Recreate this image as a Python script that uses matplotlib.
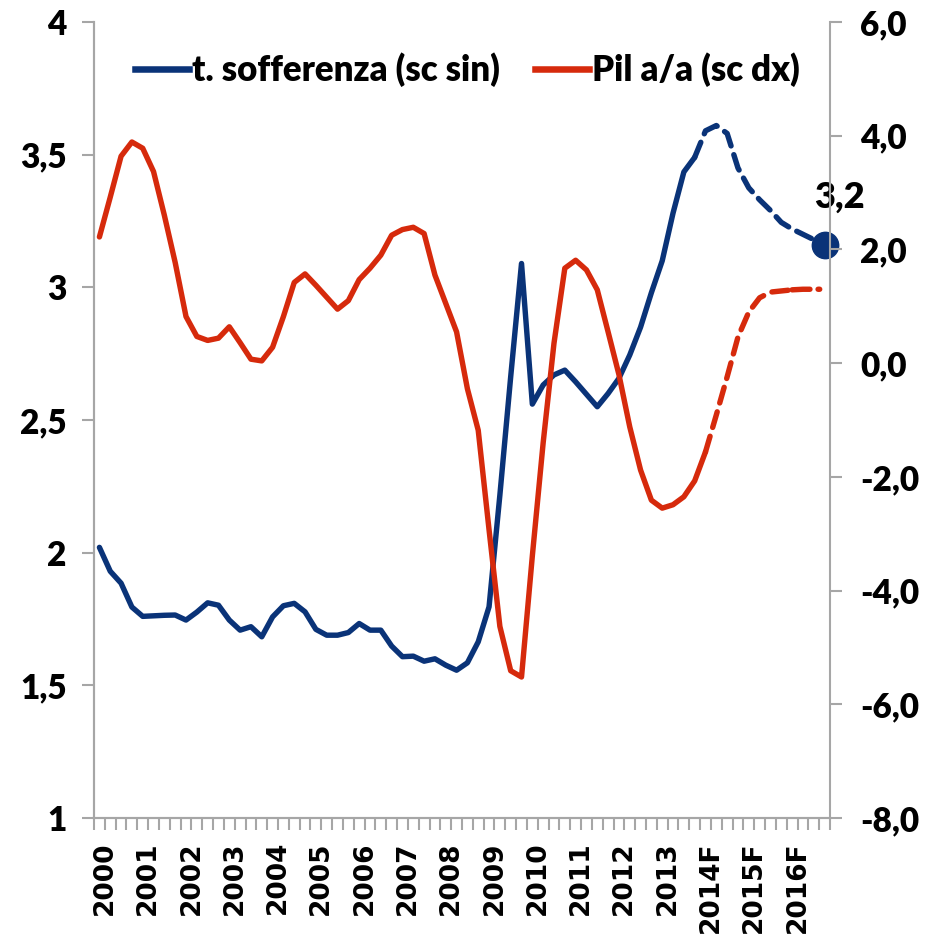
import numpy as np
import matplotlib
matplotlib.use('Agg')
import matplotlib.pyplot as plt
from matplotlib.lines import Line2D

# etichette anni (una ogni 4 trimestri)
years = ['2000', '2001', '2002', '2003', '2004', '2005', '2006', '2007', '2008',
         '2009', '2010', '2011', '2012', '2013', '2014F', '2015F', '2016F']

# tasso di sofferenza, trimestrale (scala sinistra)
sofferenza = [2.02, 1.93, 1.885, 1.795, 1.76, 1.762, 1.764, 1.765, 1.746, 1.776,
              1.811, 1.802, 1.746, 1.708, 1.721, 1.683, 1.758, 1.80, 1.809, 1.777,
              1.711, 1.689, 1.689, 1.699, 1.733, 1.708, 1.708, 1.648, 1.608, 1.61,
              1.591, 1.60, 1.576, 1.557, 1.585, 1.664, 1.796, 2.217, 2.663, 3.09,
              2.56, 2.632, 2.67, 2.688, 2.644, 2.597, 2.55, 2.60, 2.657, 2.745,
              2.85, 2.98, 3.10, 3.28, 3.435, 3.49, 3.59, 3.61, 3.58, 3.45,
              3.375, 3.33, 3.29, 3.245, 3.22, 3.20, 3.18, 3.16]

# Pil a/a, trimestrale (scala destra)
pil = [2.22, 2.92, 3.64, 3.89, 3.78, 3.37, 2.60, 1.77, 0.82, 0.47,
       0.40, 0.44, 0.64, 0.36, 0.07, 0.04, 0.28, 0.82, 1.42, 1.57,
       1.37, 1.16, 0.95, 1.10, 1.47, 1.67, 1.90, 2.25, 2.35, 2.39,
       2.28, 1.55, 1.05, 0.55, -0.45, -1.18, -2.93, -4.63, -5.41, -5.52,
       -3.39, -1.40, 0.35, 1.67, 1.81, 1.64, 1.29, 0.55, -0.20, -1.12,
       -1.88, -2.41, -2.55, -2.49, -2.35, -2.07, -1.56, -0.91, -0.24, 0.46,
       0.90, 1.15, 1.25, 1.27, 1.29, 1.30, 1.30, 1.30]

last_label = '3,2'

# inizio delle previsioni (indice trimestre)
blue_fc = 55
red_fc = 56
red_dd = 64

BLUE = '#0a3378'
RED = '#d62a0c'
GRAY = '#a6a6a6'
LW = 3.9
W = 'heavy'

plt.rcParams['font.family'] = ['Lato', 'DejaVu Sans']
plt.rcParams['font.weight'] = W

x = np.arange(len(sofferenza))
s = np.array(sofferenza)
p = np.array(pil)

fig = plt.figure(figsize=(9.29, 9.34), dpi=100)
ax = fig.add_axes([0.1012, 0.1242, 0.7922, 0.8522])
ax2 = ax.twinx()

# serie blu (sx)
ax.plot(x[:blue_fc + 1], s[:blue_fc + 1], color=BLUE, lw=LW, solid_capstyle='round',
        solid_joinstyle='round')
ax.plot(x[blue_fc:], s[blue_fc:], color=BLUE, lw=LW, dashes=(3.0, 1.7),
        dash_capstyle='round', clip_on=False)
ax.plot(x[-1], s[-1], 'o', color=BLUE, ms=19, clip_on=False, zorder=5)
ax.annotate(last_label, (x[-1], s[-1]), xytext=(11, 34), textcoords='offset points',
            ha='center', va='center', fontsize=26, fontweight=W, color='black',
            annotation_clip=False)

# serie rossa (dx)
ax2.plot(x[:red_fc + 1], p[:red_fc + 1], color=RED, lw=LW, solid_capstyle='round',
         solid_joinstyle='round')
ax2.plot(x[red_fc:red_dd + 1], p[red_fc:red_dd + 1], color=RED, lw=LW, dashes=(3.0, 1.7),
         dash_capstyle='round')
ax2.plot(x[red_dd:], p[red_dd:], color=RED, lw=LW, dashes=(3.3, 1.5, 0.3, 1.5),
         dash_capstyle='round')

ax.set_xlim(-0.5, len(x) - 0.5)
ax.set_ylim(1, 4)
ax2.set_ylim(-8, 6)

lt = np.arange(1, 4.01, 0.5)
ax.set_yticks(lt)
ax.set_yticklabels([f'{v:g}'.replace('.', ',') for v in lt])
rt = np.arange(-8, 6.01, 2)
ax2.set_yticks(rt)
ax2.set_yticklabels([f'{v:.1f}'.replace('.', ',') for v in rt])

ax.set_xticks(np.arange(0.5, len(x) - 3, 4))
ax.set_xticklabels(years, rotation=90, family='DejaVu Sans', fontweight='bold', fontsize=19)
ax.set_xticks(np.arange(-0.5, len(x), 1), minor=True)

ax.tick_params(axis='x', which='both', length=8.6, width=1.5, color=GRAY, pad=8)
ax.tick_params(axis='y', length=8.6, width=1.5, color=GRAY, pad=11, labelsize=24)
ax2.tick_params(axis='y', length=8.6, width=1.5, color=GRAY, pad=13, labelsize=24)

for a in (ax, ax2):
    a.spines['top'].set_visible(False)
    for sp in ('left', 'right', 'bottom'):
        a.spines[sp].set_color(GRAY)
        a.spines[sp].set_linewidth(1.5)
ax.spines['right'].set_visible(False)

handles = [Line2D([], [], color=BLUE, lw=LW + 0.8),
           Line2D([], [], color=RED, lw=LW + 0.8)]
fig.legend(handles, ['t. sofferenza (sc sin)', 'Pil a/a (sc dx)'], loc='center',
           bbox_to_anchor=(0.503, 0.925), ncol=2, frameon=False,
           prop={'size': 25, 'weight': W}, handlelength=1.55,
           handletextpad=0.1, columnspacing=1.0)

fig.savefig('out.png', dpi=100)
